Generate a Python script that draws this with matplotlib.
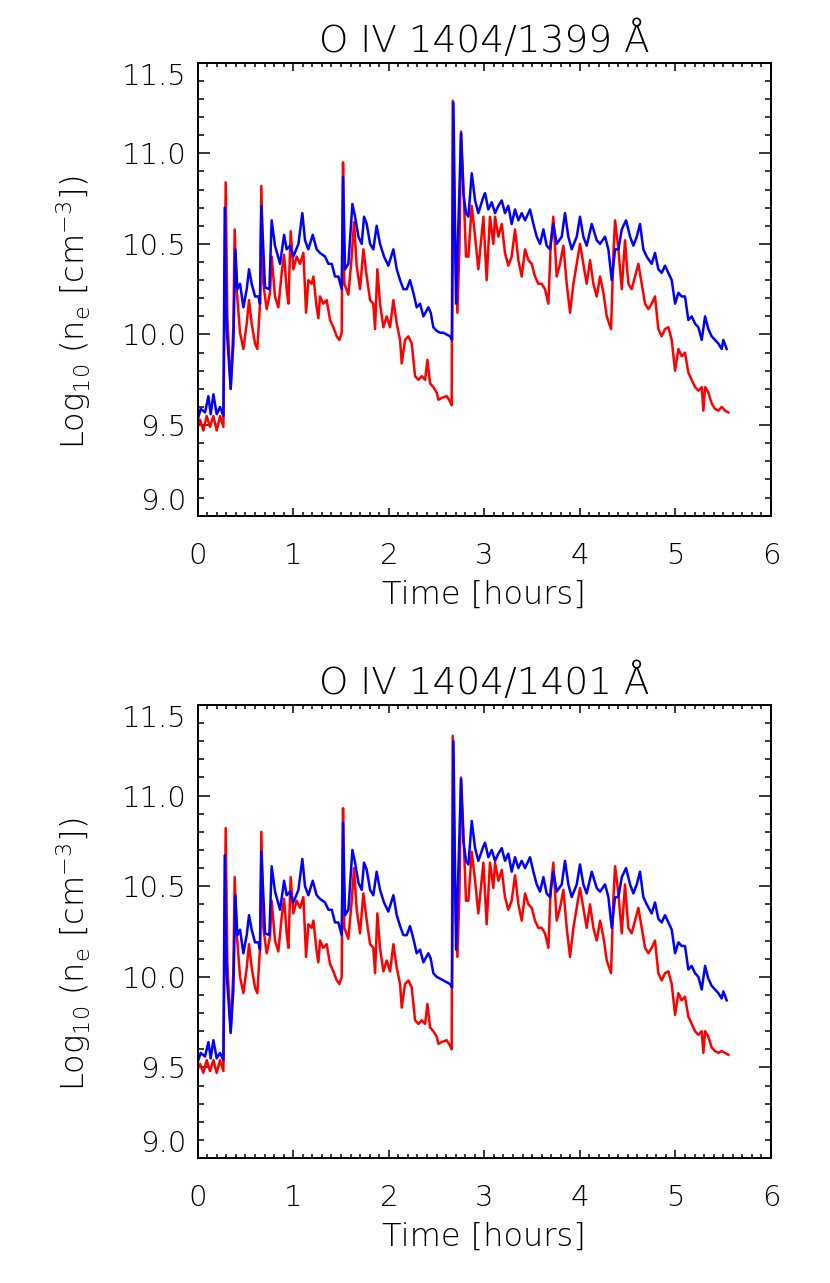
import numpy as np
import matplotlib
matplotlib.use('Agg')
import matplotlib.pyplot as plt

# --- O IV 1404/1399 (top panel) ---
t_blue_1 = [0.000, 0.031, 0.077, 0.112, 0.136, 0.164, 0.199, 0.234, 0.269, 0.283, 0.304, 0.345, 0.373, 0.394,
            0.415, 0.443, 0.478, 0.513, 0.537, 0.565, 0.600, 0.635, 0.652, 0.666, 0.705, 0.750, 0.774, 0.809,
            0.862, 0.904, 0.931, 0.966, 1.001, 1.054, 1.095, 1.123, 1.158, 1.204, 1.245, 1.280, 1.333, 1.368,
            1.403, 1.437, 1.472, 1.507, 1.521, 1.542, 1.577, 1.619, 1.647, 1.682, 1.716, 1.741, 1.769, 1.804,
            1.838, 1.873, 1.908, 1.950, 1.995, 2.048, 2.083, 2.118, 2.153, 2.188, 2.222, 2.257, 2.292, 2.327,
            2.362, 2.414, 2.439, 2.466, 2.501, 2.536, 2.571, 2.606, 2.641, 2.662, 2.676, 2.704, 2.756, 2.780,
            2.808, 2.833, 2.868, 2.903, 2.937, 2.990, 3.007, 3.042, 3.077, 3.112, 3.147, 3.182, 3.216, 3.251,
            3.286, 3.321, 3.356, 3.391, 3.426, 3.478, 3.513, 3.548, 3.583, 3.618, 3.652, 3.687, 3.722, 3.757,
            3.810, 3.844, 3.879, 3.914, 3.967, 4.001, 4.036, 4.071, 4.124, 4.176, 4.211, 4.263, 4.298, 4.333,
            4.368, 4.403, 4.438, 4.483, 4.525, 4.560, 4.595, 4.629, 4.664, 4.699, 4.751, 4.786, 4.821, 4.856,
            4.891, 4.926, 4.961, 4.996, 5.031, 5.065, 5.100, 5.135, 5.170, 5.205, 5.240, 5.275, 5.310, 5.344,
            5.379, 5.414, 5.449, 5.484, 5.501, 5.536]
ne_blue_1 = [9.53, 9.59, 9.57, 9.66, 9.56, 9.67, 9.56, 9.60, 9.55, 10.70, 10.03, 9.70, 9.95, 10.47,
             10.25, 10.28, 10.15, 10.25, 10.36, 10.28, 10.21, 10.21, 10.17, 10.71, 10.26, 10.25, 10.63, 10.49,
             10.39, 10.55, 10.47, 10.49, 10.43, 10.50, 10.67, 10.52, 10.47, 10.55, 10.47, 10.45, 10.43, 10.39,
             10.39, 10.32, 10.32, 10.25, 10.87, 10.36, 10.39, 10.72, 10.65, 10.54, 10.50, 10.65, 10.61, 10.50,
             10.47, 10.60, 10.50, 10.43, 10.38, 10.47, 10.36, 10.30, 10.25, 10.25, 10.30, 10.23, 10.15, 10.17,
             10.10, 10.15, 10.12, 10.04, 10.02, 10.01, 10.01, 10.00, 9.99, 9.97, 11.28, 10.17, 11.11, 10.78,
             10.67, 10.65, 10.89, 10.74, 10.67, 10.76, 10.78, 10.69, 10.73, 10.67, 10.71, 10.74, 10.67, 10.71,
             10.61, 10.69, 10.63, 10.67, 10.63, 10.69, 10.61, 10.54, 10.50, 10.58, 10.49, 10.47, 10.61, 10.50,
             10.54, 10.67, 10.54, 10.47, 10.54, 10.65, 10.54, 10.49, 10.61, 10.52, 10.50, 10.54, 10.47, 10.30,
             10.47, 10.47, 10.58, 10.63, 10.54, 10.49, 10.54, 10.61, 10.47, 10.43, 10.39, 10.45, 10.36, 10.34,
             10.38, 10.34, 10.30, 10.17, 10.23, 10.21, 10.21, 10.08, 10.10, 10.06, 10.04, 9.97, 10.10, 10.03,
             9.99, 9.97, 9.95, 9.92, 9.97, 9.92]

t_red_1 = [0.000, 0.024, 0.059, 0.094, 0.129, 0.164, 0.199, 0.234, 0.269, 0.293, 0.310, 0.345, 0.373, 0.387,
           0.408, 0.443, 0.478, 0.513, 0.537, 0.565, 0.600, 0.624, 0.652, 0.666, 0.687, 0.722, 0.757, 0.774,
           0.809, 0.844, 0.879, 0.904, 0.931, 0.949, 0.973, 1.001, 1.036, 1.071, 1.106, 1.134, 1.158, 1.193,
           1.211, 1.245, 1.263, 1.280, 1.315, 1.350, 1.385, 1.420, 1.455, 1.483, 1.507, 1.521, 1.535, 1.577,
           1.612, 1.636, 1.664, 1.699, 1.734, 1.769, 1.804, 1.838, 1.856, 1.880, 1.908, 1.943, 1.978, 2.013,
           2.048, 2.083, 2.118, 2.135, 2.170, 2.205, 2.240, 2.275, 2.310, 2.345, 2.380, 2.404, 2.432, 2.466,
           2.501, 2.519, 2.554, 2.606, 2.641, 2.658, 2.669, 2.693, 2.718, 2.739, 2.756, 2.780, 2.808, 2.833,
           2.868, 2.903, 2.937, 2.990, 3.024, 3.059, 3.094, 3.112, 3.147, 3.182, 3.216, 3.251, 3.286, 3.321,
           3.356, 3.391, 3.426, 3.461, 3.496, 3.530, 3.565, 3.600, 3.635, 3.670, 3.695, 3.722, 3.757, 3.792,
           3.827, 3.862, 3.897, 3.932, 3.967, 4.001, 4.036, 4.071, 4.106, 4.141, 4.176, 4.211, 4.246, 4.281,
           4.326, 4.351, 4.368, 4.403, 4.438, 4.472, 4.507, 4.542, 4.577, 4.612, 4.647, 4.682, 4.717, 4.751,
           4.786, 4.821, 4.856, 4.891, 4.926, 4.961, 4.996, 5.031, 5.065, 5.100, 5.135, 5.170, 5.205, 5.240,
           5.275, 5.292, 5.310, 5.344, 5.379, 5.414, 5.449, 5.484, 5.519, 5.553]
ne_red_1 = [9.49, 9.53, 9.47, 9.55, 9.49, 9.55, 9.47, 9.55, 9.49, 10.84, 10.10, 9.70, 10.04, 10.58,
            10.25, 10.01, 9.92, 10.06, 10.19, 10.06, 9.95, 9.92, 10.17, 10.82, 10.28, 10.14, 10.23, 10.43,
            10.21, 10.15, 10.34, 10.44, 10.25, 10.17, 10.57, 10.36, 10.43, 10.39, 10.45, 10.12, 10.30, 10.28,
            10.32, 10.15, 10.09, 10.21, 10.17, 10.19, 10.08, 10.04, 9.99, 9.97, 10.01, 10.95, 10.28, 10.22,
            10.43, 10.62, 10.38, 10.25, 10.47, 10.32, 10.19, 10.17, 10.03, 10.36, 10.17, 10.04, 10.10, 10.04,
            10.19, 10.06, 9.97, 9.84, 9.97, 9.99, 9.95, 9.77, 9.75, 9.77, 9.75, 9.86, 9.73, 9.71,
            9.68, 9.64, 9.65, 9.66, 9.63, 9.61, 11.29, 10.47, 10.12, 10.47, 11.12, 10.83, 10.43, 10.43,
            10.71, 10.54, 10.36, 10.65, 10.30, 10.65, 10.50, 10.65, 10.54, 10.61, 10.45, 10.38, 10.43, 10.58,
            10.41, 10.32, 10.47, 10.41, 10.39, 10.32, 10.28, 10.28, 10.25, 10.17, 10.50, 10.65, 10.32, 10.39,
            10.49, 10.28, 10.12, 10.28, 10.39, 10.50, 10.39, 10.28, 10.41, 10.28, 10.21, 10.32, 10.23, 10.10,
            10.03, 10.45, 10.63, 10.47, 10.25, 10.52, 10.28, 10.25, 10.32, 10.39, 10.28, 10.17, 10.14, 10.17,
            10.21, 10.03, 9.99, 10.03, 10.04, 9.97, 9.80, 9.92, 9.88, 9.90, 9.79, 9.75, 9.71, 9.69,
            9.71, 9.58, 9.71, 9.68, 9.62, 9.59, 9.58, 9.60, 9.58, 9.57]

# --- O IV 1404/1401 (bottom panel), same time sampling ---
t_blue_2 = t_blue_1
ne_blue_2 = [9.53, 9.58, 9.56, 9.64, 9.55, 9.65, 9.55, 9.58, 9.54, 10.67, 10.01, 9.69, 9.93, 10.45,
             10.23, 10.26, 10.13, 10.23, 10.34, 10.26, 10.19, 10.19, 10.15, 10.69, 10.24, 10.23, 10.61, 10.47,
             10.37, 10.53, 10.45, 10.47, 10.41, 10.48, 10.65, 10.50, 10.45, 10.53, 10.45, 10.43, 10.41, 10.37,
             10.37, 10.30, 10.30, 10.23, 10.85, 10.34, 10.37, 10.70, 10.63, 10.52, 10.48, 10.63, 10.59, 10.48,
             10.45, 10.58, 10.48, 10.41, 10.36, 10.45, 10.34, 10.28, 10.23, 10.23, 10.28, 10.21, 10.13, 10.15,
             10.08, 10.13, 10.10, 10.02, 10.00, 9.99, 9.98, 9.97, 9.96, 9.94, 11.30, 10.15, 11.09, 10.75,
             10.64, 10.62, 10.86, 10.71, 10.64, 10.72, 10.74, 10.66, 10.70, 10.64, 10.68, 10.71, 10.64, 10.68,
             10.58, 10.66, 10.60, 10.64, 10.60, 10.66, 10.58, 10.51, 10.47, 10.55, 10.46, 10.44, 10.58, 10.47,
             10.51, 10.64, 10.51, 10.44, 10.51, 10.62, 10.51, 10.46, 10.58, 10.49, 10.47, 10.51, 10.44, 10.27,
             10.44, 10.44, 10.55, 10.60, 10.51, 10.46, 10.51, 10.58, 10.44, 10.40, 10.35, 10.41, 10.32, 10.30,
             10.34, 10.30, 10.26, 10.13, 10.19, 10.17, 10.17, 10.04, 10.06, 10.02, 10.00, 9.93, 10.06, 9.99,
             9.95, 9.93, 9.91, 9.88, 9.92, 9.87]
t_red_2 = t_red_1
ne_red_2 = [9.49, 9.52, 9.47, 9.54, 9.48, 9.54, 9.47, 9.54, 9.48, 10.82, 10.08, 9.70, 10.03, 10.55,
            10.24, 10.00, 9.91, 10.05, 10.18, 10.05, 9.94, 9.91, 10.16, 10.80, 10.27, 10.13, 10.22, 10.42,
            10.20, 10.14, 10.33, 10.43, 10.24, 10.16, 10.55, 10.35, 10.42, 10.38, 10.44, 10.11, 10.29, 10.27,
            10.31, 10.14, 10.08, 10.20, 10.16, 10.18, 10.07, 10.03, 9.98, 9.96, 10.00, 10.93, 10.27, 10.21,
            10.42, 10.60, 10.37, 10.24, 10.46, 10.31, 10.18, 10.16, 10.02, 10.35, 10.16, 10.03, 10.09, 10.03,
            10.18, 10.05, 9.96, 9.83, 9.96, 9.98, 9.94, 9.76, 9.74, 9.76, 9.74, 9.85, 9.72, 9.70,
            9.67, 9.63, 9.64, 9.65, 9.62, 9.60, 11.33, 10.45, 10.11, 10.45, 11.10, 10.81, 10.42, 10.42,
            10.69, 10.53, 10.35, 10.63, 10.29, 10.63, 10.49, 10.63, 10.53, 10.59, 10.44, 10.37, 10.42, 10.56,
            10.40, 10.31, 10.46, 10.40, 10.38, 10.31, 10.27, 10.27, 10.24, 10.16, 10.49, 10.63, 10.31, 10.38,
            10.48, 10.27, 10.11, 10.27, 10.38, 10.49, 10.38, 10.27, 10.40, 10.27, 10.20, 10.31, 10.22, 10.09,
            10.02, 10.44, 10.61, 10.46, 10.24, 10.51, 10.27, 10.24, 10.31, 10.38, 10.27, 10.16, 10.13, 10.16,
            10.20, 10.02, 9.98, 10.02, 10.03, 9.96, 9.79, 9.91, 9.87, 9.89, 9.78, 9.74, 9.70, 9.68,
            9.70, 9.58, 9.70, 9.67, 9.61, 9.59, 9.58, 9.59, 9.58, 9.57]

titles = ['O IV 1404/1399 Å', 'O IV 1404/1401 Å']
xticks = [0, 1, 2, 3, 4, 5, 6]
yticks = [9.0, 9.5, 10.0, 10.5, 11.0, 11.5]

plt.rcParams['font.family'] = ['DejaVu Sans']
plt.rcParams['font.weight'] = 'light'
plt.rcParams['axes.titleweight'] = 'light'
plt.rcParams['axes.labelweight'] = 'light'
plt.rcParams['mathtext.default'] = 'regular'

fig = plt.figure(figsize=(8.3, 12.83), dpi=100)
W, H = 830.0, 1283.0
panels = [(62.7, 515.7), (705.0, 1158.0)]
data = [(t_red_1, ne_red_1, t_blue_1, ne_blue_1), (t_red_2, ne_red_2, t_blue_2, ne_blue_2)]

for (top, bot), (tr, nr, tb, nb), title in zip(panels, data, titles):
    ax = fig.add_axes([197.7 / W, 1 - bot / H, (771 - 197.7) / W, (bot - top) / H])
    ax.plot(tr, nr, color='#ff0000', lw=1.8)
    ax.plot(tb, nb, color='#0000ff', lw=1.8)
    ax.set_xlim(0, 6)
    ax.set_ylim(9.0, 11.5)
    ax.set_xticks(xticks)
    ax.set_xticks(np.arange(0, 6.01, 0.1), minor=True)
    ax.set_yticks(yticks)
    ax.set_yticks(np.arange(9.0, 11.51, 0.1), minor=True)
    ax.set_xticklabels([str(v) for v in xticks])
    ax.set_yticklabels(['%.1f' % v for v in yticks])
    for s in ax.spines.values():
        s.set_linewidth(1.4)
    ax.tick_params(which='both', direction='in', top=True, right=True, width=1.1, labelsize=21)
    ax.tick_params(axis='x', which='major', length=5.8, pad=19)
    ax.tick_params(axis='x', which='minor', length=2.9)
    ax.tick_params(axis='y', which='major', length=8.4, pad=8)
    ax.tick_params(axis='y', which='minor', length=4.5)
    ylab = ax.get_yticklabels()
    ylab[0].set_va('bottom')
    ylab[-1].set_va('top')
    ax.set_title(title, fontsize=27, pad=8)
    ax.set_xlabel('Time [hours]', fontsize=23, labelpad=7)
    ax.set_ylabel('Log$_{10}$ (n$_e$ [cm$^{-3}$])', fontsize=23)
    ax.yaxis.set_label_coords(-0.183, 0.45)

fig.savefig('out.png', dpi=100)
